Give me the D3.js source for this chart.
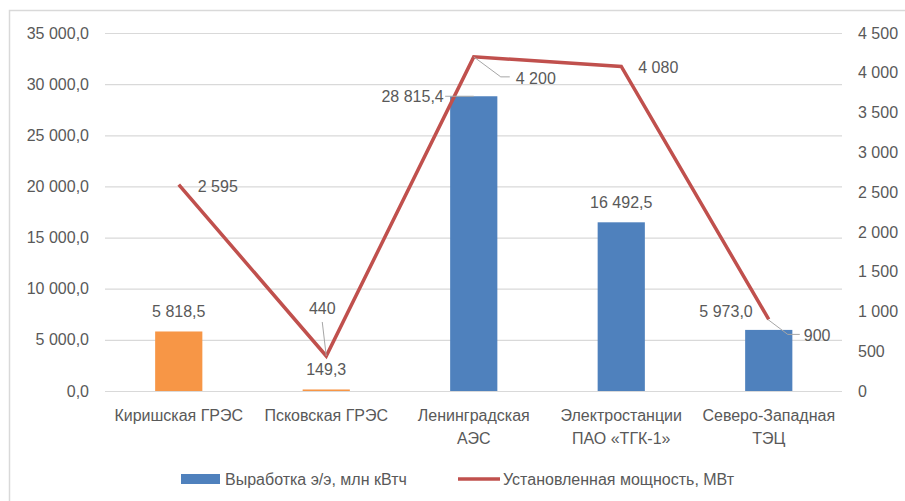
<!DOCTYPE html>
<html>
<head>
<meta charset="utf-8">
<script src="https://cdn.jsdelivr.net/npm/d3@7"></script>
<style>
  body { margin: 0; background: #fff; }
  svg text { font-family: "Liberation Sans", Arial, sans-serif; fill: #595959; }
</style>
</head>
<body>
<div id="chart"></div>
<script>
// --------------- Data --------------- //

const stations = [
    ["Киришская ГРЭС"],
    ["Псковская ГРЭС"],
    ["Ленинградская", "АЭС"],
    ["Электростанции", "ПАО «ТГК-1»"],
    ["Северо-Западная", "ТЭЦ"]
];
const output = [5818.5, 149.3, 28815.4, 16492.5, 5973.0];      // Выработка э/э, млн кВтч
const capacity = [2595, 440, 4200, 4080, 900];                 // Установленная мощность, МВт
const barColors = ["#F79646", "#F79646", "#4F81BD", "#4F81BD", "#4F81BD"];
const leftTicks = [0, 5000, 10000, 15000, 20000, 25000, 30000, 35000];
const rightTicks = [0, 500, 1000, 1500, 2000, 2500, 3000, 3500, 4000, 4500];
const seriesNames = ["Выработка э/э, млн кВтч", "Установленная мощность, МВт"];

// --------------- Basic Setup --------------- //

const width = 905,
    height = 501;
const margin = {top: 33, right: 63, bottom: 110, left: 105};

const ru = d3.formatLocale({decimal: ",", thousands: "\u00a0", grouping: [3], currency: ["", ""]});
const fmt1 = ru.format(",.1f"),
    fmt0 = ru.format(",.0f");

const svg = d3.select("#chart")
    .append("svg")
    .attr("width", width)
    .attr("height", height);

// chart frame
svg.append("rect")
    .attr("x", 9.5).attr("y", 10.5)
    .attr("width", 920).attr("height", 520)
    .attr("fill", "none")
    .attr("stroke", "#D9D9D9")
    .attr("stroke-width", 1.5);

const x = d3.scaleBand()
    .domain(d3.range(stations.length))
    .range([margin.left, width - margin.right + 0.5])
    .paddingInner(0.68)
    .paddingOuter(0.34);

const y = d3.scaleLinear()
    .domain([0, 35000])
    .range([height - margin.bottom, margin.top]);

const y2 = d3.scaleLinear()
    .domain([0, 4500])
    .range([height - margin.bottom, margin.top]);

const cx = i => x(i) + x.bandwidth() / 2;

// --------------- Axes & Grid --------------- //

svg.append("g")
    .attr("transform", `translate(${margin.left},0)`)
    .call(d3.axisLeft(y).tickValues(leftTicks).tickSize(-(width - margin.left - margin.right)).tickFormat(fmt1).tickPadding(16))
    .call(g => g.select(".domain").remove())
    .call(g => g.selectAll(".tick line").attr("stroke", "#D9D9D9").attr("stroke-width", 1.2))
    .call(g => g.selectAll(".tick text").attr("font-size", 16).attr("fill", "#595959").attr("font-family", null));

svg.append("g")
    .attr("transform", `translate(${width - margin.right},0)`)
    .call(d3.axisRight(y2).tickValues(rightTicks).tickSize(0).tickFormat(fmt0).tickPadding(16))
    .call(g => g.select(".domain").remove())
    .call(g => g.selectAll(".tick text").attr("font-size", 16).attr("fill", "#595959").attr("font-family", null));

// category labels
const cat = svg.append("g")
    .selectAll("text")
    .data(stations)
    .join("text")
    .attr("text-anchor", "middle")
    .attr("font-size", 16)
    .attr("x", (d, i) => cx(i))
    .attr("y", height - margin.bottom + 30);
cat.selectAll("tspan")
    .data(d => d)
    .join("tspan")
    .attr("x", function () { return this.parentNode.getAttribute("x"); })
    .attr("dy", (d, j) => j === 0 ? 0 : 23)
    .text(d => d);

// --------------- Bars & Line --------------- //

svg.append("g")
    .selectAll("rect")
    .data(output)
    .join("rect")
    .attr("x", (d, i) => x(i))
    .attr("y", d => y(d))
    .attr("width", x.bandwidth())
    .attr("height", d => y(0) - y(d))
    .attr("fill", (d, i) => barColors[i]);

const line = d3.line()
    .x((d, i) => cx(i))
    .y(d => y2(d));

svg.append("path")
    .datum(capacity)
    .attr("d", line)
    .attr("fill", "none")
    .attr("stroke", "#C0504D")
    .attr("stroke-width", 3.5)
    .attr("stroke-linejoin", "miter");

// --------------- Data labels --------------- //

// label offsets from the data point [dx, dy, anchor]
const barLabelPos = [[0, -14, "middle"], [0, -14, "middle"], [-30, 6, "end"], [0, -14, "middle"], [-16, -13, "end"]];
const lineLabelPos = [[19, 7, "start"], [-4, -42, "middle"], [42, 27, "start"], [17, 7, "start"], [35, 22, "start"]];

const leader = (pts) => svg.append("polyline")
    .attr("points", pts.map(p => p.join(",")).join(" "))
    .attr("fill", "none")
    .attr("stroke", "#A6A6A6")
    .attr("stroke-width", 1);

// leader lines
leader([[x(2) - 5, y(output[2])], [cx(2), y(output[2])]]);
leader([[cx(1) - 4, y2(capacity[1]) - 34], [cx(1), y2(capacity[1])]]);
leader([[cx(2), y2(capacity[2])], [cx(2) + 27, y2(capacity[2]) + 20], [cx(2) + 36, y2(capacity[2]) + 20]]);
leader([[cx(4) - 1, y2(capacity[4])], [cx(4) + 19, y2(capacity[4]) + 15], [cx(4) + 31, y2(capacity[4]) + 15]]);

svg.append("g")
    .selectAll("text")
    .data(output)
    .join("text")
    .attr("font-size", 16)
    .attr("x", (d, i) => cx(i) + barLabelPos[i][0])
    .attr("y", (d, i) => y(d) + barLabelPos[i][1])
    .attr("text-anchor", (d, i) => barLabelPos[i][2])
    .text(d => fmt1(d));

svg.append("g")
    .selectAll("text")
    .data(capacity)
    .join("text")
    .attr("font-size", 16)
    .attr("x", (d, i) => cx(i) + lineLabelPos[i][0])
    .attr("y", (d, i) => y2(d) + lineLabelPos[i][1])
    .attr("text-anchor", (d, i) => lineLabelPos[i][2])
    .text(d => fmt0(d));

// --------------- Legend --------------- //

const legY = 479;
svg.append("rect")
    .attr("x", 181).attr("y", legY - 5)
    .attr("width", 39).attr("height", 10)
    .attr("fill", "#4F81BD");
svg.append("text")
    .attr("x", 225).attr("y", legY + 6)
    .attr("font-size", 16)
    .text(seriesNames[0]);
svg.append("line")
    .attr("x1", 458).attr("x2", 500)
    .attr("y1", legY).attr("y2", legY)
    .attr("stroke", "#C0504D")
    .attr("stroke-width", 3.5);
svg.append("text")
    .attr("x", 503).attr("y", legY + 6)
    .attr("font-size", 16)
    .text(seriesNames[1]);
</script>
</body>
</html>
